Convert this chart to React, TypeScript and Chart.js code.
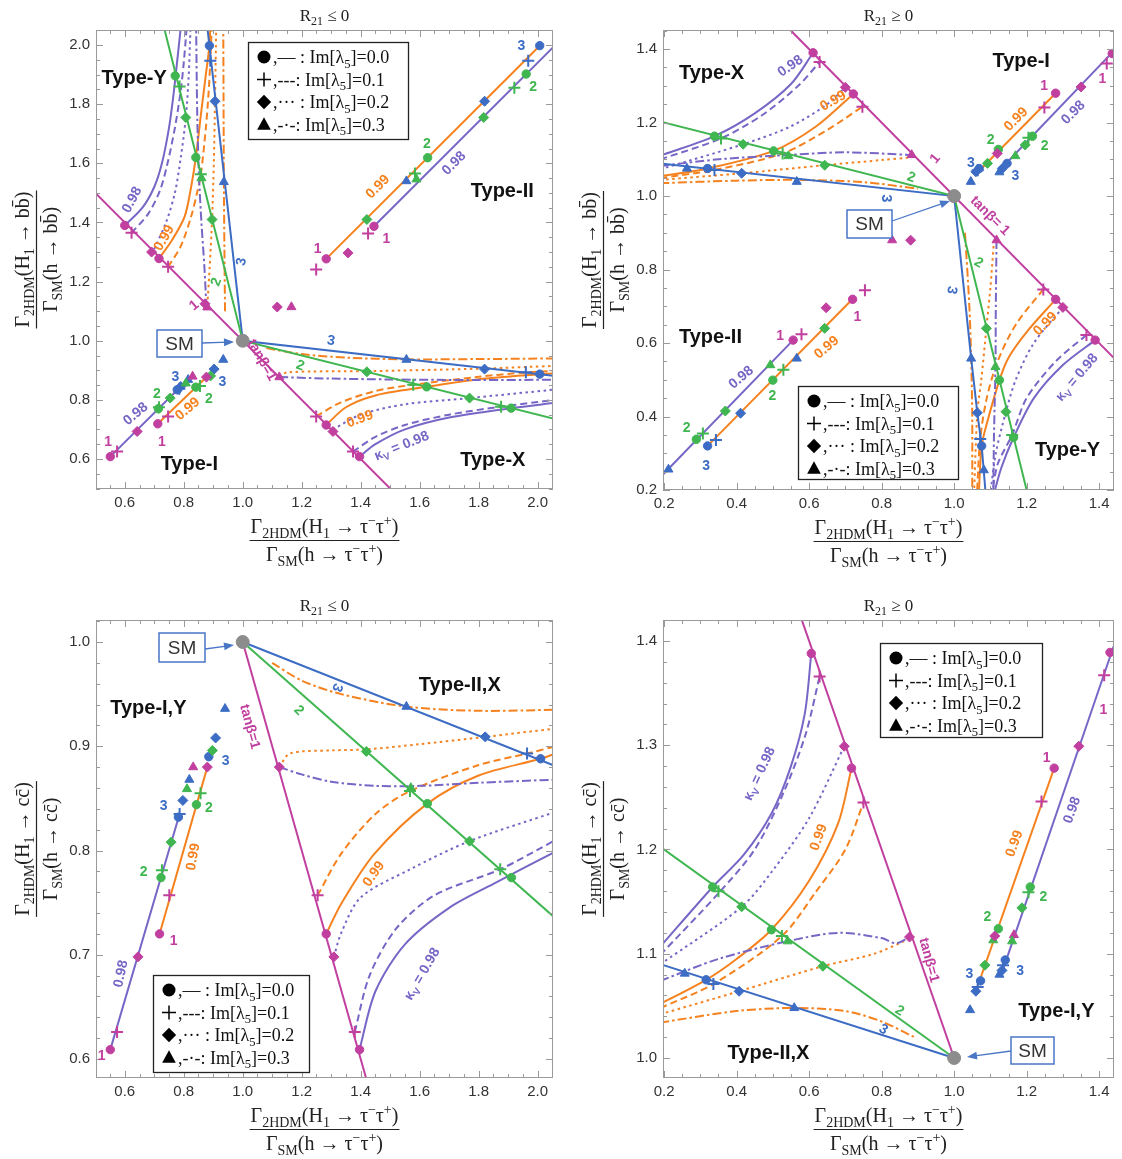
import React, { useEffect, useRef } from "react";
import { Chart, registerables } from "chart.js";
Chart.register(...registerables);

type Pt = number[];
type Mk = [number, number, string, string];
type Lb = [string, number, number, string, number, string];

const COLORS: Record<string, string> = {
  pu: "#7866c6", or: "#f5821f", gr: "#3fb650", bl: "#3c6cc4", mg: "#c13f9f", k: "#111111", sm: "#8c8c8c",
};
const DASHES: Record<string, number[]> = { s: [], d: [7, 4], t: [2.5, 3.5], dd: [9, 3, 2.5, 3] };
const SERIF = '"Liberation Serif", "DejaVu Serif", serif';
const SANS = '"Liberation Sans", Arial, sans-serif';

// ---------------- Panel 1 (R21<=0, bb vs tautau) ----------------
const P1_XT = [0.6, 0.8, 1.0, 1.2, 1.4, 1.6, 1.8, 2.0];
const P1_YT = [0.6, 0.8, 1.0, 1.2, 1.4, 1.6, 1.8, 2.0];
const P1_MG: Pt[] = [[0.48, 1.52], [1.52, 0.48]];
const P1_GR: Pt[] = [[0.733, 2.06], [1, 1], [2.06, 0.735]];
const P1_BL: Pt[] = [[0.88, 2.06], [1, 1], [2.06, 0.881]];
const P1_Y_PU_S: Pt[] = [[0.6, 1.39], [0.66, 1.45], [0.7, 1.52], [0.726, 1.6], [0.75, 1.72], [0.765, 1.83], [0.776, 1.93], [0.79, 2.06]];
const P1_Y_PU_D: Pt[] = [[0.623, 1.365], [0.68, 1.43], [0.72, 1.51], [0.745, 1.6], [0.77, 1.72], [0.789, 1.84], [0.8, 1.94], [0.81, 2.06]];
const P1_Y_PU_T: Pt[] = [[0.7, 1.31], [0.74, 1.4], [0.77, 1.5], [0.79, 1.62], [0.807, 1.755], [0.817, 1.9], [0.823, 2.06]];
const P1_Y_PU_DD: Pt[] = [[0.877, 1.111], [0.87, 1.25], [0.86, 1.4], [0.852, 1.55], [0.846, 1.75], [0.842, 2.06]];
const P1_Y_OR_S: Pt[] = [[0.716, 1.278], [0.76, 1.34], [0.803, 1.42], [0.825, 1.52], [0.841, 1.62], [0.86, 1.78], [0.875, 1.9], [0.887, 1.998], [0.89, 2.06]];
const P1_Y_OR_D: Pt[] = [[0.747, 1.25], [0.79, 1.32], [0.825, 1.42], [0.845, 1.5], [0.858, 1.563], [0.875, 1.72], [0.885, 1.85], [0.89, 1.947], [0.895, 2.06]];
const P1_Y_OR_T: Pt[] = [[0.88, 1.12], [0.888, 1.25], [0.896, 1.41], [0.902, 1.6], [0.906, 1.81], [0.91, 2.06]];
const P1_Y_OR_DD: Pt[] = [[0.94, 1.1], [0.938, 1.3], [0.936, 1.537], [0.935, 1.8], [0.934, 2.06]];
const P1_X_PU_S: Pt[] = [[1.396, 0.608], [1.45, 0.65], [1.55, 0.7], [1.7, 0.74], [1.91, 0.772], [2.06, 0.79]];
const P1_X_PU_D: Pt[] = [[1.374, 0.625], [1.45, 0.675], [1.55, 0.715], [1.7, 0.75], [1.876, 0.777], [2.06, 0.8]];
const P1_X_PU_T: Pt[] = [[1.306, 0.7], [1.4, 0.75], [1.55, 0.785], [1.769, 0.806], [2.06, 0.835]];
const P1_X_PU_DD: Pt[] = [[1.124, 0.877], [1.3, 0.872], [1.5, 0.869], [1.8, 0.867], [2.06, 0.868]];
const P1_X_OR_S: Pt[] = [[1.283, 0.715], [1.35, 0.775], [1.45, 0.815], [1.624, 0.844], [1.8, 0.87], [2.007, 0.887], [2.06, 0.89]];
const P1_X_OR_D: Pt[] = [[1.249, 0.744], [1.33, 0.79], [1.45, 0.83], [1.578, 0.851], [1.8, 0.878], [1.96, 0.893], [2.06, 0.898]];
const P1_X_OR_T: Pt[] = [[1.124, 0.877], [1.15, 0.893], [1.421, 0.897], [1.82, 0.906], [2.06, 0.915]];
const P1_X_OR_DD: Pt[] = [[1.08, 0.975], [1.2, 0.955], [1.35, 0.943], [1.555, 0.937], [1.8, 0.938], [2.06, 0.94]];
const P1_II_OR: Pt[] = [[1.283, 1.277], [2.007, 1.998]];
const P1_II_PU: Pt[] = [[1.445, 1.387], [2.06, 2.0]];
const P1_I_PU: Pt[] = [[0.551, 0.608], [0.79, 0.845]];
const P1_I_OR: Pt[] = [[0.712, 0.719], [0.88, 0.88]];
const P1_MK: Mk[] = [
  [0.691, 1.3, "mg", "d"], [0.716, 1.278, "mg", "o"], [0.747, 1.25, "mg", "p"], [0.6, 1.39, "mg", "o"], [0.623, 1.365, "mg", "p"],
  [0.872, 1.125, "mg", "d"], [0.88, 1.113, "mg", "t"],
  [0.771, 1.896, "gr", "o"], [0.786, 1.86, "gr", "p"], [0.807, 1.755, "gr", "d"], [0.841, 1.62, "gr", "o"], [0.858, 1.563, "gr", "p"], [0.86, 1.55, "gr", "t"], [0.896, 1.41, "gr", "d"],
  [0.887, 1.998, "bl", "o"], [0.89, 1.947, "bl", "p"], [0.906, 1.81, "bl", "d"], [0.936, 1.537, "bl", "t"],
  [1.117, 1.114, "mg", "d"], [1.165, 1.114, "mg", "t"],
  [1.283, 1.277, "mg", "o"], [1.249, 1.241, "mg", "p"], [1.357, 1.297, "mg", "d"], [1.445, 1.387, "mg", "o"], [1.425, 1.363, "mg", "p"],
  [1.421, 1.41, "gr", "d"], [1.555, 1.54, "bl", "t"], [1.584, 1.566, "gr", "p"], [1.627, 1.619, "gr", "o"], [1.82, 1.81, "bl", "d"], [1.968, 1.947, "bl", "p"], [2.007, 1.998, "bl", "o"],
  [1.589, 1.546, "gr", "t"], [1.817, 1.755, "gr", "d"], [1.921, 1.856, "gr", "p"], [1.961, 1.902, "gr", "o"],
  [1.555, 0.936, "bl", "t"], [1.82, 0.904, "bl", "d"], [2.007, 0.887, "bl", "o"], [1.96, 0.893, "bl", "p"],
  [1.421, 0.895, "gr", "d"], [1.578, 0.851, "gr", "p"], [1.624, 0.844, "gr", "o"], [1.769, 0.806, "gr", "d"], [1.876, 0.777, "gr", "p"], [1.91, 0.772, "gr", "o"],
  [1.124, 0.877, "mg", "t"], [1.249, 0.744, "mg", "p"], [1.283, 0.715, "mg", "o"], [1.306, 0.693, "mg", "d"], [1.374, 0.625, "mg", "p"], [1.396, 0.608, "mg", "o"],
  [0.551, 0.608, "mg", "o"], [0.574, 0.625, "mg", "p"], [0.642, 0.693, "mg", "d"], [0.716, 0.775, "gr", "p"], [0.714, 0.77, "gr", "o"], [0.754, 0.806, "gr", "d"],
  [0.778, 0.834, "bl", "o"], [0.785, 0.838, "bl", "p"], [0.79, 0.845, "bl", "d"], [0.815, 0.868, "bl", "t"], [0.83, 0.879, "mg", "t"], [0.807, 0.856, "gr", "t"],
  [0.712, 0.719, "mg", "o"], [0.747, 0.744, "mg", "p"], [0.841, 0.843, "gr", "o"], [0.855, 0.847, "gr", "p"], [0.877, 0.877, "mg", "d"], [0.891, 0.881, "gr", "d"],
  [0.903, 0.904, "bl", "d"], [0.934, 0.936, "bl", "t"],
];
const P1_LB: Lb[] = [
  ["Type-Y", 0.632, 1.891, "k", 0, "type"], ["Type-II", 1.88, 1.51, "k", 0, "type"], ["Type-I", 0.819, 0.586, "k", 0, "type"], ["Type-X", 1.848, 0.6, "k", 0, "type"],
  ["0.98", 0.622, 1.478, "pu", -62, "n"], ["0.99", 0.731, 1.349, "or", -60, "n"], ["1", 0.833, 1.122, "mg", -40, "n"], ["2", 0.908, 1.2, "gr", -70, "n"], ["3", 0.993, 1.268, "bl", -80, "n"],
  ["3", 1.3, 1.003, "bl", 10, "n"], ["2", 1.196, 0.919, "gr", 20, "n"], ["tanβ=1", 1.068, 0.936, "mg", 60, "n"],
  ["0.99", 1.396, 0.738, "or", -20, "n"], ["κ_{V} = 0.98", 1.538, 0.647, "pu", -22, "n"],
  ["1", 0.544, 0.659, "mg", 0, "n"], ["1", 0.726, 0.659, "mg", 0, "n"], ["2", 0.709, 0.823, "gr", 0, "n"], ["2", 0.885, 0.806, "gr", 0, "n"],
  ["3", 0.772, 0.881, "bl", 0, "n"], ["3", 0.931, 0.862, "bl", 0, "n"], ["0.98", 0.635, 0.755, "pu", -40, "n"], ["0.99", 0.811, 0.772, "or", -40, "n"],
  ["1", 1.254, 1.314, "mg", 0, "n"], ["1", 1.487, 1.348, "mg", 0, "n"], ["2", 1.624, 1.67, "gr", 0, "n"], ["2", 1.985, 1.862, "gr", 0, "n"], ["3", 1.945, 2.0, "bl", 0, "n"],
  ["0.99", 1.456, 1.523, "or", -45, "n"], ["0.98", 1.714, 1.602, "pu", -45, "n"],
];

// ---------------- Panel 2 (R21>=0, bb vs tautau) ----------------
const P2_XT = [0.2, 0.4, 0.6, 0.8, 1.0, 1.2, 1.4];
const P2_YT = [0.2, 0.4, 0.6, 0.8, 1.0, 1.2, 1.4];
const P2_MG: Pt[] = [[0.55, 1.45], [1.45, 0.55]];
const P2_GR: Pt[] = [[0.19, 1.2025], [1, 1], [1.2, 0.2]];
const P2_BL: Pt[] = [[0.19, 1.089], [1, 1], [1.047, 0.558], [1.064, 0.41], [1.076, 0.32], [1.087, 0.19]];
const P2_X_PU_S: Pt[] = [[0.19, 1.11], [0.339, 1.163], [0.45, 1.225], [0.55, 1.305], [0.611, 1.39]];
const P2_X_PU_D: Pt[] = [[0.19, 1.1], [0.357, 1.157], [0.47, 1.22], [0.57, 1.3], [0.629, 1.365]];
const P2_X_PU_T: Pt[] = [[0.19, 1.073], [0.418, 1.141], [0.55, 1.19], [0.65, 1.25], [0.7, 1.296]];
const P2_X_PU_DD: Pt[] = [[0.19, 1.082], [0.35, 1.1], [0.543, 1.112], [0.7, 1.119], [0.883, 1.112]];
const P2_X_OR_S: Pt[] = [[0.19, 1.054], [0.32, 1.075], [0.502, 1.123], [0.62, 1.19], [0.722, 1.278]];
const P2_X_OR_D: Pt[] = [[0.19, 1.049], [0.339, 1.071], [0.527, 1.116], [0.65, 1.18], [0.747, 1.243]];
const P2_X_OR_T: Pt[] = [[0.19, 1.044], [0.414, 1.062], [0.643, 1.084], [0.8, 1.098], [0.878, 1.105]];
const P2_X_OR_DD: Pt[] = [[0.19, 1.035], [0.4, 1.042], [0.566, 1.044], [0.75, 1.038], [0.9, 1.02]];
const P2_Y_PU_S: Pt[] = [[1.389, 0.608], [1.3, 0.54], [1.22, 0.45], [1.164, 0.343], [1.13, 0.26], [1.11, 0.19]];
const P2_Y_PU_D: Pt[] = [[1.365, 0.622], [1.28, 0.55], [1.2, 0.45], [1.16, 0.35], [1.12, 0.27], [1.105, 0.19]];
const P2_Y_PU_T: Pt[] = [[1.3, 0.697], [1.22, 0.6], [1.17, 0.5], [1.143, 0.413], [1.115, 0.3], [1.1, 0.19]];
const P2_Y_PU_DD: Pt[] = [[1.117, 0.88], [1.115, 0.7], [1.114, 0.535], [1.11, 0.35], [1.108, 0.19]];
const P2_Y_OR_S: Pt[] = [[1.28, 0.719], [1.2, 0.63], [1.15, 0.56], [1.125, 0.499], [1.09, 0.38], [1.076, 0.32], [1.068, 0.19]];
const P2_Y_OR_D: Pt[] = [[1.246, 0.746], [1.17, 0.65], [1.12, 0.55], [1.09, 0.45], [1.072, 0.339], [1.063, 0.19]];
const P2_Y_OR_T: Pt[] = [[1.11, 0.88], [1.1, 0.75], [1.089, 0.64], [1.075, 0.5], [1.064, 0.41], [1.055, 0.19]];
const P2_Y_OR_DD: Pt[] = [[1.03, 0.9], [1.042, 0.7], [1.047, 0.558], [1.05, 0.4], [1.05, 0.19]];
const P2_I_OR: Pt[] = [[1.065, 1.065], [1.28, 1.28]];
const P2_I_PU: Pt[] = [[1.13, 1.075], [1.45, 1.405]];
const P2_II_PU: Pt[] = [[0.19, 0.235], [0.556, 0.608]];
const P2_II_OR: Pt[] = [[0.32, 0.32], [0.72, 0.72]];
const P2_MK: Mk[] = [
  [0.611, 1.39, "mg", "o"], [0.629, 1.365, "mg", "p"], [0.7, 1.296, "mg", "d"], [0.722, 1.278, "mg", "o"], [0.747, 1.243, "mg", "p"], [0.883, 1.112, "mg", "t"],
  [0.339, 1.163, "gr", "o"], [0.357, 1.157, "gr", "p"], [0.418, 1.141, "gr", "d"], [0.502, 1.123, "gr", "o"], [0.527, 1.116, "gr", "p"], [0.543, 1.109, "gr", "t"], [0.643, 1.084, "gr", "d"],
  [0.263, 1.075, "bl", "t"], [0.32, 1.075, "bl", "o"], [0.339, 1.071, "bl", "p"], [0.414, 1.062, "bl", "d"], [0.566, 1.039, "bl", "t"],
  [1.117, 0.88, "mg", "t"], [1.246, 0.746, "mg", "p"], [1.28, 0.719, "mg", "o"], [1.3, 0.697, "mg", "d"], [1.365, 0.622, "mg", "p"], [1.389, 0.608, "mg", "o"],
  [1.089, 0.64, "gr", "d"], [1.114, 0.535, "gr", "t"], [1.125, 0.499, "gr", "o"], [1.143, 0.413, "gr", "d"], [1.16, 0.35, "gr", "p"], [1.164, 0.343, "gr", "o"],
  [1.047, 0.558, "bl", "t"], [1.064, 0.41, "bl", "d"], [1.072, 0.339, "bl", "p"], [1.076, 0.32, "bl", "o"], [1.082, 0.254, "bl", "t"],
  [1.28, 1.28, "mg", "o"], [1.249, 1.241, "mg", "p"], [1.119, 1.116, "mg", "d"], [1.436, 1.388, "mg", "o"], [1.421, 1.361, "mg", "p"], [1.35, 1.297, "mg", "d"],
  [1.122, 1.127, "gr", "o"], [1.092, 1.089, "gr", "d"], [1.216, 1.163, "gr", "o"], [1.205, 1.159, "gr", "p"], [1.196, 1.139, "gr", "d"], [1.169, 1.109, "gr", "t"],
  [1.069, 1.075, "bl", "o"], [1.065, 1.07, "bl", "p"], [1.06, 1.066, "bl", "d"], [1.046, 1.039, "bl", "t"], [1.146, 1.089, "bl", "o"], [1.133, 1.075, "bl", "d"], [1.125, 1.065, "bl", "t"],
  [0.212, 0.256, "bl", "t"], [0.289, 0.338, "gr", "o"], [0.307, 0.354, "gr", "p"], [0.369, 0.415, "gr", "d"], [0.493, 0.54, "gr", "t"], [0.556, 0.608, "mg", "o"], [0.579, 0.624, "mg", "p"],
  [0.32, 0.32, "bl", "o"], [0.343, 0.336, "bl", "p"], [0.411, 0.409, "bl", "d"], [0.5, 0.499, "gr", "o"], [0.529, 0.527, "gr", "p"], [0.566, 0.558, "bl", "t"], [0.643, 0.64, "gr", "d"],
  [0.72, 0.719, "mg", "o"], [0.754, 0.744, "mg", "p"], [0.647, 0.696, "mg", "d"],
  [0.829, 0.88, "mg", "t"], [0.88, 0.88, "mg", "d"],
];
const P2_LB: Lb[] = [
  ["Type-X", 0.331, 1.337, "k", 0, "type"], ["Type-I", 1.185, 1.37, "k", 0, "type"], ["Type-II", 0.328, 0.619, "k", 0, "type"], ["Type-Y", 1.313, 0.312, "k", 0, "type"],
  ["0.98", 0.547, 1.356, "pu", -35, "n"], ["0.99", 0.665, 1.261, "or", -30, "n"], ["1", 0.946, 1.103, "mg", -50, "n"], ["2", 0.883, 1.053, "gr", 20, "n"], ["3", 0.815, 0.994, "bl", 90, "n"],
  ["tanβ= 1", 1.101, 0.948, "mg", 45, "n"],
  ["1", 1.248, 1.302, "mg", 0, "n"], ["1", 1.409, 1.32, "mg", 0, "n"], ["0.99", 1.169, 1.211, "or", -45, "n"], ["0.98", 1.327, 1.229, "pu", -45, "n"],
  ["2", 1.101, 1.154, "gr", 0, "n"], ["2", 1.25, 1.139, "gr", 0, "n"], ["3", 1.046, 1.093, "bl", 0, "n"], ["3", 1.169, 1.057, "bl", 0, "n"],
  ["2", 1.069, 0.821, "gr", 30, "n"], ["3", 0.996, 0.744, "bl", 100, "n"], ["0.99", 1.25, 0.654, "or", -45, "n"], ["κ_{V} = 0.98", 1.337, 0.508, "pu", -50, "n"],
  ["1", 0.52, 0.622, "mg", 0, "n"], ["1", 0.733, 0.673, "mg", 0, "n"], ["2", 0.262, 0.372, "gr", 0, "n"], ["2", 0.499, 0.458, "gr", 0, "n"], ["3", 0.316, 0.268, "bl", 0, "n"],
  ["0.98", 0.411, 0.508, "pu", -40, "n"], ["0.99", 0.647, 0.59, "or", -40, "n"],
];

// ---------------- Panel 3 (R21<=0, cc vs tautau) ----------------
const P3_XT = [0.6, 0.8, 1.0, 1.2, 1.4, 1.6, 1.8, 2.0];
const P3_YT = [0.6, 0.7, 0.8, 0.9, 1.0];
const P3_MG: Pt[] = [[1, 1], [1.43, 0.57]];
const P3_GR: Pt[] = [[1, 1], [2.06, 0.735]];
const P3_BL: Pt[] = [[1, 1], [2.06, 0.881]];
const P3_L_PU: Pt[] = [[0.551, 0.609], [0.786, 0.835]];
const P3_L_OR: Pt[] = [[0.718, 0.72], [0.88, 0.88]];
const P3_R_PU_S: Pt[] = [[1.396, 0.609], [1.45, 0.665], [1.55, 0.71], [1.7, 0.745], [1.85, 0.768], [2.06, 0.799]];
const P3_R_PU_D: Pt[] = [[1.38, 0.626], [1.43, 0.68], [1.52, 0.725], [1.65, 0.757], [1.873, 0.782], [2.06, 0.81]];
const P3_R_PU_T: Pt[] = [[1.309, 0.698], [1.334, 0.721], [1.4, 0.755], [1.561, 0.781], [1.769, 0.809], [2.06, 0.837]];
const P3_R_PU_DD: Pt[] = [[1.124, 0.88], [1.2, 0.873], [1.3, 0.866], [1.45, 0.862], [1.6, 0.862], [1.8, 0.865], [2.06, 0.868]];
const P3_R_OR_S: Pt[] = [[1.283, 0.72], [1.334, 0.749], [1.447, 0.797], [1.626, 0.845], [1.8, 0.872], [2.01, 0.888], [2.06, 0.893]];
const P3_R_OR_D: Pt[] = [[1.254, 0.757], [1.334, 0.797], [1.45, 0.835], [1.567, 0.857], [1.8, 0.882], [1.964, 0.893], [2.06, 0.9]];
const P3_R_OR_T: Pt[] = [[1.124, 0.88], [1.16, 0.893], [1.3, 0.896], [1.419, 0.897], [1.6, 0.902], [1.822, 0.909], [2.06, 0.917]];
const P3_R_OR_DD: Pt[] = [[1.1, 0.98], [1.2, 0.963], [1.334, 0.95], [1.555, 0.938], [1.8, 0.934], [2.06, 0.935]];
const P3_MK: Mk[] = [
  [1.124, 0.88, "mg", "d"], [1.254, 0.757, "mg", "p"], [1.283, 0.72, "mg", "o"], [1.309, 0.698, "mg", "d"], [1.38, 0.626, "mg", "p"], [1.396, 0.609, "mg", "o"],
  [1.419, 0.895, "gr", "d"], [1.567, 0.857, "gr", "p"], [1.57, 0.86, "gr", "t"], [1.626, 0.845, "gr", "o"], [1.769, 0.809, "gr", "d"], [1.873, 0.782, "gr", "p"], [1.911, 0.774, "gr", "o"],
  [1.555, 0.938, "bl", "t"], [1.822, 0.909, "bl", "d"], [1.964, 0.893, "bl", "p"], [2.01, 0.888, "bl", "o"],
  [0.551, 0.609, "mg", "o"], [0.574, 0.626, "mg", "p"], [0.645, 0.698, "mg", "d"], [0.718, 0.72, "mg", "o"], [0.751, 0.757, "mg", "p"], [0.88, 0.88, "mg", "d"], [0.832, 0.88, "mg", "t"],
  [0.723, 0.774, "gr", "o"], [0.726, 0.781, "gr", "p"], [0.757, 0.808, "gr", "d"], [0.811, 0.859, "gr", "t"], [0.843, 0.844, "gr", "o"], [0.857, 0.855, "gr", "p"], [0.897, 0.896, "gr", "d"],
  [0.782, 0.832, "bl", "o"], [0.786, 0.835, "bl", "p"], [0.797, 0.848, "bl", "d"], [0.819, 0.868, "bl", "t"], [0.885, 0.89, "bl", "o"], [0.908, 0.908, "bl", "d"], [0.94, 0.936, "bl", "t"],
];
const P3_LB: Lb[] = [
  ["Type-I,Y", 0.68, 0.938, "k", 0, "type"], ["Type-II,X", 1.736, 0.96, "k", 0, "type"],
  ["tanβ=1", 1.027, 0.919, "mg", 75, "n"], ["2", 1.192, 0.935, "gr", 45, "n"], ["3", 1.323, 0.956, "bl", 110, "n"],
  ["0.99", 0.829, 0.794, "or", -80, "n"], ["0.98", 0.584, 0.682, "pu", -78, "n"],
  ["1", 0.522, 0.604, "mg", 0, "n"], ["1", 0.766, 0.714, "mg", 0, "n"], ["2", 0.664, 0.78, "gr", 0, "n"], ["2", 0.885, 0.842, "gr", 0, "n"],
  ["3", 0.732, 0.844, "bl", 0, "n"], ["3", 0.942, 0.887, "bl", 0, "n"],
  ["0.99", 1.442, 0.778, "or", -55, "n"], ["κ_{V} = 0.98", 1.606, 0.682, "pu", -60, "n"],
];

// ---------------- Panel 4 (R21>=0, cc vs tautau) ----------------
const P4_XT = [0.2, 0.4, 0.6, 0.8, 1.0, 1.2, 1.4];
const P4_YT = [1.0, 1.1, 1.2, 1.3, 1.4];
const P4_MG: Pt[] = [[0.57, 1.43], [1, 1]];
const P4_GR: Pt[] = [[0.19, 1.2025], [1, 1]];
const P4_BL: Pt[] = [[0.19, 1.09], [1, 1]];
const P4_R_OR: Pt[] = [[1.06, 1.064], [1.276, 1.278]];
const P4_R_PU: Pt[] = [[1.135, 1.085], [1.45, 1.405]];
const P4_L_PU_S: Pt[] = [[0.19, 1.107], [0.334, 1.164], [0.42, 1.195], [0.497, 1.235], [0.55, 1.28], [0.588, 1.33], [0.606, 1.388]];
const P4_L_PU_D: Pt[] = [[0.19, 1.099], [0.35, 1.158], [0.45, 1.2], [0.53, 1.255], [0.59, 1.31], [0.629, 1.366]];
const P4_L_PU_T: Pt[] = [[0.19, 1.09], [0.414, 1.145], [0.5, 1.18], [0.6, 1.23], [0.697, 1.299]];
const P4_L_PU_DD: Pt[] = [[0.19, 1.074], [0.35, 1.095], [0.541, 1.112], [0.68, 1.12], [0.8, 1.115], [0.84, 1.11], [0.877, 1.116]];
const P4_L_OR_S: Pt[] = [[0.19, 1.052], [0.316, 1.075], [0.4, 1.095], [0.496, 1.123], [0.6, 1.17], [0.68, 1.225], [0.717, 1.278]];
const P4_L_OR_D: Pt[] = [[0.19, 1.048], [0.336, 1.071], [0.525, 1.117], [0.62, 1.16], [0.7, 1.2], [0.75, 1.245]];
const P4_L_OR_T: Pt[] = [[0.19, 1.042], [0.407, 1.064], [0.638, 1.088], [0.78, 1.1], [0.869, 1.113]];
const P4_L_OR_DD: Pt[] = [[0.19, 1.034], [0.4, 1.045], [0.559, 1.048], [0.7, 1.045], [0.8, 1.035], [0.89, 1.02]];
const P4_MK: Mk[] = [
  [0.606, 1.388, "mg", "o"], [0.629, 1.366, "mg", "p"], [0.697, 1.299, "mg", "d"], [0.717, 1.278, "mg", "o"], [0.75, 1.245, "mg", "p"], [0.877, 1.116, "mg", "d"],
  [0.334, 1.164, "gr", "o"], [0.35, 1.16, "gr", "p"], [0.414, 1.145, "gr", "d"], [0.496, 1.123, "gr", "o"], [0.525, 1.117, "gr", "p"], [0.541, 1.112, "gr", "t"], [0.638, 1.088, "gr", "d"],
  [0.257, 1.081, "bl", "t"], [0.316, 1.075, "bl", "o"], [0.336, 1.071, "bl", "p"], [0.407, 1.064, "bl", "d"], [0.559, 1.048, "bl", "t"],
  [1.276, 1.278, "mg", "o"], [1.241, 1.246, "mg", "p"], [1.112, 1.117, "mg", "d"], [1.43, 1.389, "mg", "o"], [1.414, 1.367, "mg", "p"], [1.344, 1.299, "mg", "d"], [1.165, 1.118, "mg", "t"],
  [1.122, 1.124, "gr", "o"], [1.085, 1.089, "gr", "d"], [1.21, 1.164, "gr", "o"], [1.205, 1.159, "gr", "p"], [1.187, 1.144, "gr", "d"], [1.16, 1.112, "gr", "t"], [1.108, 1.113, "gr", "t"],
  [1.073, 1.074, "bl", "o"], [1.065, 1.068, "bl", "p"], [1.06, 1.064, "bl", "d"], [1.044, 1.046, "bl", "t"],
  [1.141, 1.094, "bl", "o"], [1.135, 1.089, "bl", "p"], [1.132, 1.084, "bl", "d"], [1.125, 1.08, "bl", "t"],
];
const P4_LB: Lb[] = [
  ["Type-II,X", 0.488, 1.006, "k", 0, "type"], ["Type-I,Y", 1.282, 1.046, "k", 0, "type"],
  ["κ_{V} = 0.98", 0.461, 1.273, "pu", -65, "n"], ["0.99", 0.624, 1.212, "or", -70, "n"], ["tanβ=1", 0.933, 1.094, "mg", 75, "n"],
  ["2", 0.851, 1.046, "gr", 30, "n"], ["3", 0.806, 1.028, "bl", 30, "n"],
  ["1", 1.255, 1.289, "mg", 0, "n"], ["1", 1.412, 1.335, "mg", 0, "n"], ["0.99", 1.164, 1.206, "or", -70, "n"], ["0.98", 1.323, 1.238, "pu", -70, "n"],
  ["2", 1.092, 1.136, "gr", 0, "n"], ["2", 1.246, 1.155, "gr", 0, "n"], ["3", 1.042, 1.081, "bl", 0, "n"], ["3", 1.182, 1.084, "bl", 0, "n"],
];

const LEGEND_ROWS: [string, string][] = [
  ["o", ",— : Im[λ_{5}]=0.0"], ["p", ",---: Im[λ_{5}]=0.1"], ["d", ",··· : Im[λ_{5}]=0.2"], ["t", ",-·-: Im[λ_{5}]=0.3"],
];

type Curve = [Pt[], string, string, number];
interface PanelCfg {
  ox: number; oy: number; plot: number[]; x: number[]; y: number[];
  xt: number[]; yt: number[]; yMinor: number; title: string; ylab: [string, string];
  curves: Curve[]; markers: Mk[]; labels: Lb[]; legend: number[]; smBox: number[]; arrow: number[];
}

const XNUM = "Γ_{2HDM}(H_{1} → τ^{−}τ^{+})";
const XDEN = "Γ_{SM}(h → τ^{−}τ^{+})";

const PANELS: PanelCfg[] = [
  {
    ox: 0, oy: 0, plot: [96, 30, 554, 489], x: [0.5025, 2.052], y: [0.4985, 2.051], xt: P1_XT, yt: P1_YT, yMinor: 0.05,
    title: "R_{21} ≤ 0", ylab: ["Γ_{2HDM}(H_{1} → bb\u0304)", "Γ_{SM}(h → bb\u0304)"],
    curves: [
      [P1_MG, "mg", "s", 0], [P1_GR, "gr", "s", 0], [P1_BL, "bl", "s", 0],
      [P1_Y_PU_S, "pu", "s", 0.3], [P1_Y_PU_D, "pu", "d", 0.3], [P1_Y_PU_T, "pu", "t", 0.3], [P1_Y_PU_DD, "pu", "dd", 0.3],
      [P1_Y_OR_S, "or", "s", 0.3], [P1_Y_OR_D, "or", "d", 0.3], [P1_Y_OR_T, "or", "t", 0.3], [P1_Y_OR_DD, "or", "dd", 0.3],
      [P1_X_PU_S, "pu", "s", 0.3], [P1_X_PU_D, "pu", "d", 0.3], [P1_X_PU_T, "pu", "t", 0.3], [P1_X_PU_DD, "pu", "dd", 0.3],
      [P1_X_OR_S, "or", "s", 0.3], [P1_X_OR_D, "or", "d", 0.3], [P1_X_OR_T, "or", "t", 0.3], [P1_X_OR_DD, "or", "dd", 0.3],
      [P1_II_OR, "or", "s", 0], [P1_II_PU, "pu", "s", 0], [P1_I_PU, "pu", "s", 0], [P1_I_OR, "or", "s", 0],
    ],
    markers: P1_MK, labels: P1_LB, legend: [248, 42, 160, 97], smBox: [157, 330, 45, 27], arrow: [202, 343, 234, 342],
  },
  {
    ox: 561, oy: 0, plot: [663, 30, 1120, 490], x: [0.197, 1.441], y: [0.2, 1.452], xt: P2_XT, yt: P2_YT, yMinor: 0.05,
    title: "R_{21} ≥ 0", ylab: ["Γ_{2HDM}(H_{1} → bb\u0304)", "Γ_{SM}(h → bb\u0304)"],
    curves: [
      [P2_MG, "mg", "s", 0], [P2_GR, "gr", "s", 0], [P2_BL, "bl", "s", 0],
      [P2_X_PU_S, "pu", "s", 0.3], [P2_X_PU_D, "pu", "d", 0.3], [P2_X_PU_T, "pu", "t", 0.3], [P2_X_PU_DD, "pu", "dd", 0.3],
      [P2_X_OR_S, "or", "s", 0.3], [P2_X_OR_D, "or", "d", 0.3], [P2_X_OR_T, "or", "t", 0.3], [P2_X_OR_DD, "or", "dd", 0.3],
      [P2_Y_PU_S, "pu", "s", 0.3], [P2_Y_PU_D, "pu", "d", 0.3], [P2_Y_PU_T, "pu", "t", 0.3], [P2_Y_PU_DD, "pu", "dd", 0.3],
      [P2_Y_OR_S, "or", "s", 0.3], [P2_Y_OR_D, "or", "d", 0.3], [P2_Y_OR_T, "or", "t", 0.3], [P2_Y_OR_DD, "or", "dd", 0.3],
      [P2_I_OR, "or", "s", 0], [P2_I_PU, "pu", "s", 0], [P2_II_PU, "pu", "s", 0], [P2_II_OR, "or", "s", 0],
    ],
    markers: P2_MK, labels: P2_LB, legend: [798, 386, 160, 93], smBox: [847, 210, 45, 28], arrow: [892, 221, 950, 201],
  },
  {
    ox: 0, oy: 580, plot: [96, 620, 554, 1078], x: [0.5025, 2.052], y: [0.5818, 1.0211], xt: P3_XT, yt: P3_YT, yMinor: 0.02,
    title: "R_{21} ≤ 0", ylab: ["Γ_{2HDM}(H_{1} → cc\u0304)", "Γ_{SM}(h → cc\u0304)"],
    curves: [
      [P3_MG, "mg", "s", 0], [P3_GR, "gr", "s", 0], [P3_BL, "bl", "s", 0], [P3_L_PU, "pu", "s", 0], [P3_L_OR, "or", "s", 0],
      [P3_R_PU_S, "pu", "s", 0.3], [P3_R_PU_D, "pu", "d", 0.3], [P3_R_PU_T, "pu", "t", 0.3], [P3_R_PU_DD, "pu", "dd", 0.3],
      [P3_R_OR_S, "or", "s", 0.3], [P3_R_OR_D, "or", "d", 0.3], [P3_R_OR_T, "or", "t", 0.3], [P3_R_OR_DD, "or", "dd", 0.3],
    ],
    markers: P3_MK, labels: P3_LB, legend: [153, 975, 156, 97], smBox: [159, 633, 46, 29], arrow: [205, 649, 234, 645],
  },
  {
    ox: 561, oy: 580, plot: [663, 620, 1120, 1078], x: [0.197, 1.441], y: [0.9808, 1.4201], xt: P4_XT, yt: P4_YT, yMinor: 0.02,
    title: "R_{21} ≥ 0", ylab: ["Γ_{2HDM}(H_{1} → cc\u0304)", "Γ_{SM}(h → cc\u0304)"],
    curves: [
      [P4_MG, "mg", "s", 0], [P4_GR, "gr", "s", 0], [P4_BL, "bl", "s", 0], [P4_R_OR, "or", "s", 0], [P4_R_PU, "pu", "s", 0],
      [P4_L_PU_S, "pu", "s", 0.3], [P4_L_PU_D, "pu", "d", 0.3], [P4_L_PU_T, "pu", "t", 0.3], [P4_L_PU_DD, "pu", "dd", 0.3],
      [P4_L_OR_S, "or", "s", 0.3], [P4_L_OR_D, "or", "d", 0.3], [P4_L_OR_T, "or", "t", 0.3], [P4_L_OR_DD, "or", "dd", 0.3],
    ],
    markers: P4_MK, labels: P4_LB, legend: [880, 643, 162, 94], smBox: [1011, 1037, 43, 27], arrow: [1011, 1051, 967, 1057],
  },
];

// ---------------- drawing helpers ----------------
function parseRich(s: string) {
  const out: { t: string; m: number }[] = [];
  const re = /([_^])\{([^}]*)\}/g;
  let last = 0;
  let m: RegExpExecArray | null;
  while ((m = re.exec(s))) {
    if (m.index > last) out.push({ t: s.slice(last, m.index), m: 0 });
    out.push({ t: m[2], m: m[1] === "_" ? 1 : -1 });
    last = re.lastIndex;
  }
  if (last < s.length) out.push({ t: s.slice(last), m: 0 });
  return out;
}
function richWidth(ctx: CanvasRenderingContext2D, s: string, size: number, fam: string, wt: string) {
  let w = 0;
  for (const g of parseRich(s)) {
    ctx.font = `${wt} ${g.m ? size * 0.7 : size}px ${fam}`;
    w += ctx.measureText(g.t).width;
  }
  return w;
}
function richText(ctx: CanvasRenderingContext2D, s: string, x: number, y: number, size: number, fam: string, wt: string, align: string) {
  const w = richWidth(ctx, s, size, fam, wt);
  let cx = align === "left" ? x : align === "center" ? x - w / 2 : x - w;
  ctx.textAlign = "left";
  ctx.textBaseline = "alphabetic";
  const base = y + size * 0.35;
  for (const g of parseRich(s)) {
    ctx.font = `${wt} ${g.m ? size * 0.7 : size}px ${fam}`;
    const dy = g.m === 1 ? size * 0.25 : g.m === -1 ? -size * 0.38 : 0;
    ctx.fillText(g.t, cx, base + dy);
    cx += ctx.measureText(g.t).width;
  }
  return w;
}
function fraction(ctx: CanvasRenderingContext2D, num: string, den: string, size: number) {
  ctx.fillStyle = "#222";
  const w1 = richText(ctx, num, 0, -14, size, SERIF, "normal", "center");
  const w2 = richText(ctx, den, 0, 14, size, SERIF, "normal", "center");
  const w = Math.max(w1, w2) + 2;
  ctx.strokeStyle = "#222";
  ctx.lineWidth = 1.2;
  ctx.setLineDash([]);
  ctx.beginPath();
  ctx.moveTo(-w / 2, 0.5);
  ctx.lineTo(w / 2, 0.5);
  ctx.stroke();
}
function shape(ctx: CanvasRenderingContext2D, sh: string, x: number, y: number, r: number, col: string) {
  ctx.fillStyle = col;
  ctx.strokeStyle = col;
  ctx.setLineDash([]);
  ctx.beginPath();
  if (sh === "o") { ctx.arc(x, y, r, 0, Math.PI * 2); ctx.fill(); }
  else if (sh === "d") { ctx.moveTo(x, y - r * 1.1); ctx.lineTo(x + r * 1.1, y); ctx.lineTo(x, y + r * 1.1); ctx.lineTo(x - r * 1.1, y); ctx.closePath(); ctx.fill(); }
  else if (sh === "t") { ctx.moveTo(x, y - r * 1.1); ctx.lineTo(x + r * 1.05, y + r * 0.8); ctx.lineTo(x - r * 1.05, y + r * 0.8); ctx.closePath(); ctx.fill(); }
  else { ctx.lineWidth = 1.5; ctx.moveTo(x - r, y); ctx.lineTo(x + r, y); ctx.moveTo(x, y - r); ctx.lineTo(x, y + r); ctx.stroke(); }
}

const PSTYLE: Record<string, string> = { o: "circle", p: "cross", d: "rectRot", t: "triangle" };
const PRAD: Record<string, number> = { o: 4.2, p: 6, d: 5, t: 5.2 };

function buildConfig(cfg: PanelCfg): any {
  const [pl, pt, pr, pb] = cfg.plot;
  const datasets: any[] = [];
  for (const [pts, col, st, ten] of cfg.curves) {
    datasets.push({
      data: pts.map((p) => ({ x: p[0], y: p[1] })), showLine: true, borderColor: COLORS[col], backgroundColor: COLORS[col],
      borderWidth: 2, borderDash: DASHES[st], pointRadius: 0, pointHoverRadius: 0, tension: ten, order: 5,
    });
  }
  const groups: Record<string, Mk[]> = {};
  for (const m of cfg.markers) (groups[m[2] + "|" + m[3]] ||= []).push(m);
  for (const k of Object.keys(groups)) {
    const [col, sh] = k.split("|");
    datasets.push({
      data: groups[k].map((m) => ({ x: m[0], y: m[1] })), showLine: false, pointStyle: PSTYLE[sh], pointRadius: PRAD[sh],
      backgroundColor: COLORS[col], borderColor: COLORS[col], borderWidth: sh === "p" ? 2 : 1, order: 2,
    });
  }
  datasets.push({ data: [{ x: 1, y: 1 }], showLine: false, pointStyle: "circle", pointRadius: 6.5, backgroundColor: COLORS.sm, borderColor: COLORS.sm, order: 0 });

  const deco = {
    id: "deco",
    afterDatasetsDraw(chart: any) {
      const ctx: CanvasRenderingContext2D = chart.ctx;
      const xs = chart.scales.x, ys = chart.scales.y;
      const { left, right, top, bottom } = chart.chartArea;
      const ox = cfg.ox, oy = cfg.oy;
      ctx.save();
      ctx.strokeStyle = "#9a9a9a";
      ctx.lineWidth = 1;
      ctx.setLineDash([]);
      ctx.strokeRect(left + 0.5, top + 0.5, right - left - 1, bottom - top - 1);
      const tick = (px: number, len: number, vert: boolean) => {
        ctx.beginPath();
        if (vert) { ctx.moveTo(px, bottom); ctx.lineTo(px, bottom - len); ctx.moveTo(px, top); ctx.lineTo(px, top + len); }
        else { ctx.moveTo(left, px); ctx.lineTo(left + len, px); ctx.moveTo(right, px); ctx.lineTo(right - len, px); }
        ctx.stroke();
      };
      for (let v = Math.ceil(cfg.x[0] / 0.05) * 0.05; v <= cfg.x[1] + 1e-9; v += 0.05) {
        const major = cfg.xt.some((t) => Math.abs(t - v) < 1e-6);
        tick(Math.round(xs.getPixelForValue(v)) + 0.5, major ? 7 : 4, true);
      }
      for (let v = Math.ceil(cfg.y[0] / cfg.yMinor - 1e-9) * cfg.yMinor; v <= cfg.y[1] + 1e-9; v += cfg.yMinor) {
        const major = cfg.yt.some((t) => Math.abs(t - v) < 1e-6);
        tick(Math.round(ys.getPixelForValue(v)) + 0.5, major ? 7 : 4, false);
      }
      ctx.fillStyle = "#333";
      ctx.font = `15px ${SANS}`;
      ctx.textAlign = "center";
      ctx.textBaseline = "middle";
      for (const t of cfg.xt) ctx.fillText(t.toFixed(1), xs.getPixelForValue(t), bottom + 14);
      ctx.textAlign = "right";
      for (const t of cfg.yt) ctx.fillText(t.toFixed(1), left - 6, ys.getPixelForValue(t));
      ctx.fillStyle = "#222";
      richText(ctx, cfg.title, (left + right) / 2, top - 15, 17, SERIF, "normal", "center");
      ctx.save();
      ctx.translate((left + right) / 2, bottom + 51);
      fraction(ctx, XNUM, XDEN, 20);
      ctx.restore();
      ctx.save();
      ctx.translate(left - 60, (top + bottom) / 2);
      ctx.rotate(-Math.PI / 2);
      fraction(ctx, cfg.ylab[0], cfg.ylab[1], 20);
      ctx.restore();
      for (const [txt, x, y, col, rot, kind] of cfg.labels) {
        ctx.save();
        ctx.translate(xs.getPixelForValue(x), ys.getPixelForValue(y));
        ctx.rotate((rot * Math.PI) / 180);
        ctx.fillStyle = COLORS[col];
        if (kind === "type") richText(ctx, txt, 0, 0, 20, SANS, "bold", "center");
        else richText(ctx, txt, 0, 0, 14, SANS, "bold", "center");
        ctx.restore();
      }
      const [lx, ly, lw, lh] = cfg.legend;
      const L = lx - ox, T = ly - oy;
      ctx.fillStyle = "#fff";
      ctx.fillRect(L, T, lw, lh);
      ctx.strokeStyle = "#222";
      ctx.lineWidth = 1.3;
      ctx.strokeRect(L + 0.5, T + 0.5, lw, lh);
      LEGEND_ROWS.forEach(([sh, txt], i) => {
        const yy = T + 15 + i * 22.5;
        shape(ctx, sh, L + 16, yy, sh === "p" ? 7 : 6.5, "#000");
        ctx.fillStyle = "#111";
        richText(ctx, txt, L + 25, yy, 18, SERIF, "normal", "left");
      });
      const [bx, by, bw, bh] = cfg.smBox;
      ctx.fillStyle = "#fff";
      ctx.fillRect(bx - ox, by - oy, bw, bh);
      ctx.strokeStyle = "#4a76c6";
      ctx.lineWidth = 1.5;
      ctx.strokeRect(bx - ox, by - oy, bw, bh);
      ctx.fillStyle = "#333";
      ctx.font = `19px ${SANS}`;
      ctx.textAlign = "center";
      ctx.textBaseline = "middle";
      ctx.fillText("SM", bx - ox + bw / 2, by - oy + bh / 2 + 1);
      const [ax1, ay1, ax2, ay2] = cfg.arrow;
      const x1 = ax1 - ox, y1 = ay1 - oy, x2 = ax2 - ox, y2 = ay2 - oy;
      const ang = Math.atan2(y2 - y1, x2 - x1);
      ctx.strokeStyle = "#4a76c6";
      ctx.fillStyle = "#4a76c6";
      ctx.lineWidth = 1.3;
      ctx.beginPath();
      ctx.moveTo(x1, y1);
      ctx.lineTo(x2 - 6 * Math.cos(ang), y2 - 6 * Math.sin(ang));
      ctx.stroke();
      ctx.beginPath();
      ctx.moveTo(x2, y2);
      ctx.lineTo(x2 - 10 * Math.cos(ang) + 4 * Math.sin(ang), y2 - 10 * Math.sin(ang) - 4 * Math.cos(ang));
      ctx.lineTo(x2 - 10 * Math.cos(ang) - 4 * Math.sin(ang), y2 - 10 * Math.sin(ang) + 4 * Math.cos(ang));
      ctx.closePath();
      ctx.fill();
      ctx.restore();
    },
  };

  return {
    type: "scatter",
    data: { datasets },
    options: {
      animation: false,
      responsive: false,
      devicePixelRatio: 1,
      events: [],
      layout: { padding: { left: pl - cfg.ox, top: pt - cfg.oy, right: cfg.ox + 561 - pr, bottom: cfg.oy + 580 - pb } },
      scales: {
        x: { type: "linear", display: false, min: cfg.x[0], max: cfg.x[1] },
        y: { type: "linear", display: false, min: cfg.y[0], max: cfg.y[1] },
      },
      plugins: { legend: { display: false }, tooltip: { enabled: false }, title: { display: false } },
    },
    plugins: [deco],
  };
}

function Panel({ cfg }: { cfg: PanelCfg }) {
  const ref = useRef<HTMLCanvasElement>(null);
  useEffect(() => {
    const chart = new Chart(ref.current as HTMLCanvasElement, buildConfig(cfg));
    return () => chart.destroy();
  }, []);
  return (
    <canvas ref={ref} width={561} height={580}
      style={{ position: "absolute", left: cfg.ox, top: cfg.oy, width: 561, height: 580 }} />
  );
}

export default function App() {
  return (
    <div style={{ position: "absolute", left: 0, top: 0, width: 1122, height: 1159, background: "#fff" }}>
      {PANELS.map((p, i) => <Panel key={i} cfg={p} />)}
    </div>
  );
}
